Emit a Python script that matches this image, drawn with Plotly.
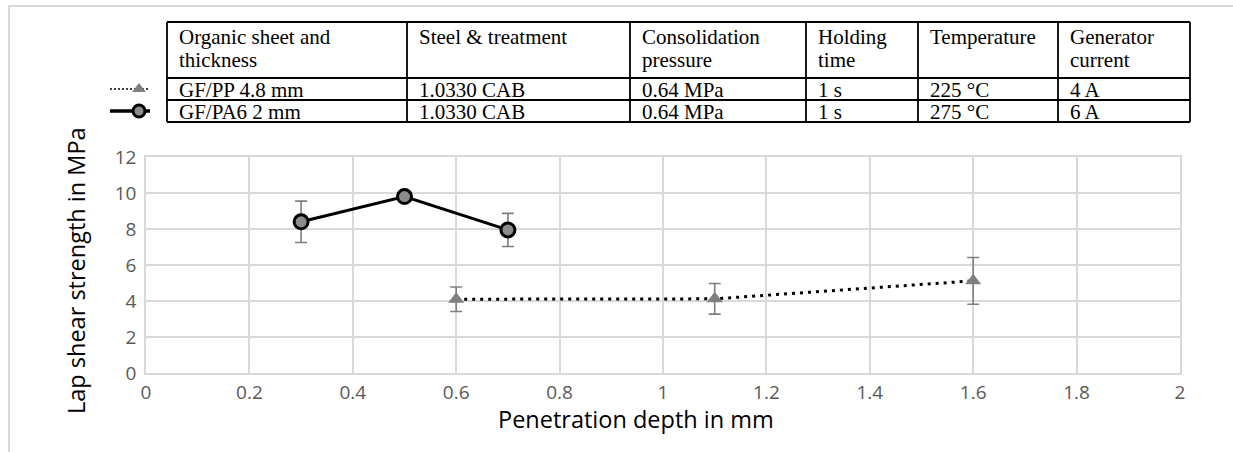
import plotly.graph_objects as go

# ---------------- data ----------------
pp_x = [0.6, 1.1, 1.6]
pp_y = [4.1, 4.12, 5.12]
pp_err = [0.68, 0.85, 1.3]

pa6_x = [0.3, 0.5, 0.7]
pa6_y = [8.4, 9.8, 7.95]
pa6_err = [1.15, 0.1, 0.92]

x_ticks = [0, 0.2, 0.4, 0.6, 0.8, 1, 1.2, 1.4, 1.6, 1.8, 2]
y_ticks = [0, 2, 4, 6, 8, 10, 12]

table_header = [
    ["Organic sheet and", "thickness"],
    ["Steel & treatment"],
    ["Consolidation", "pressure"],
    ["Holding", "time"],
    ["Temperature"],
    ["Generator", "current"],
]
table_rows = [
    ["GF/PP 4.8 mm", "1.0330 CAB", "0.64 MPa", "1 s", "225 °C", "4 A"],
    ["GF/PA6 2 mm", "1.0330 CAB", "0.64 MPa", "1 s", "275 °C", "6 A"],
]

x_title = "Penetration depth in mm"
y_title = "Lap shear strength in MPa"

# ---------------- layout geometry (pixels) ----------------
W, H = 1233, 452
L, R, T, B = 146, 53, 157, 79           # plot-area edges (px)

col_edges = [167, 407, 630, 806, 918, 1058, 1190]
row_edges = [22, 78, 100, 122]

PP_STYLE = dict(line=dict(color="black", width=3, dash="3px,5px"),
                marker=dict(symbol="triangle-up", size=14, color="#7f7f7f", line=dict(width=0)))
PA6_STYLE = dict(line=dict(color="black", width=3),
                 marker=dict(symbol="circle", size=14, color="#8c8c8c",
                             line=dict(width=3, color="black")))
ERR = dict(type="data", visible=True, color="#7f7f7f", thickness=1.6, width=6)

fig = go.Figure()

fig.add_trace(go.Scatter(x=pp_x, y=pp_y, mode="lines+markers", showlegend=False,
                         error_y=dict(array=pp_err, **ERR), **PP_STYLE))
fig.add_trace(go.Scatter(x=pa6_x, y=pa6_y, mode="lines+markers", showlegend=False,
                         error_y=dict(array=pa6_err, **ERR), **PA6_STYLE))

# legend keys drawn on a pixel-overlay axis next to the table rows
for ri, style in enumerate([PP_STYLE, PA6_STYLE]):
    yc = (row_edges[ri + 1] + row_edges[ri + 2]) / 2
    ln = dict(style["line"])
    if ri == 0:
        ln.update(width=2, dash="2px,2px", color="#404040")
    else:
        ln.update(width=3.5)
    fig.add_trace(go.Scatter(x=[110, 150], y=[yc, yc], mode="lines", line=ln,
                             xaxis="x2", yaxis="y2", showlegend=False, hoverinfo="skip"))
    mk = dict(style["marker"])
    mk["size"] = 12
    fig.add_trace(go.Scatter(x=[139], y=[yc], mode="markers", marker=mk,
                             xaxis="x2", yaxis="y2", showlegend=False, hoverinfo="skip"))

shapes = []
shapes.append(dict(type="rect", xref="x2", yref="y2", x0=9, x1=1300, y0=6, y1=500,
                   line=dict(color="#d9d9d9", width=2), layer="below"))
for xe in col_edges:
    shapes.append(dict(type="line", xref="x2", yref="y2", x0=xe, x1=xe,
                       y0=row_edges[0], y1=row_edges[-1], line=dict(color="black", width=1.8)))
for ye in row_edges:
    shapes.append(dict(type="line", xref="x2", yref="y2", x0=col_edges[0], x1=col_edges[-1],
                       y0=ye, y1=ye, line=dict(color="black", width=1.8)))

annotations = []
tfont = dict(family="Liberation Serif", size=21, color="black")
for ci, lines in enumerate(table_header):
    for li, txt in enumerate(lines):
        annotations.append(dict(xref="x2", yref="y2", x=col_edges[ci] + 10, y=37 + 23 * li,
                                xanchor="left", yanchor="middle", text=txt,
                                showarrow=False, font=tfont))
for ri, row in enumerate(table_rows):
    for ci, txt in enumerate(row):
        annotations.append(dict(xref="x2", yref="y2", x=col_edges[ci] + 10,
                                y=(row_edges[ri + 1] + row_edges[ri + 2]) / 2 + 0.5,
                                xanchor="left", yanchor="middle", text=txt,
                                showarrow=False, font=tfont))

titlefont = dict(family="Open Sans", size=23.5, color="black")
annotations.append(dict(xref="x2", yref="y2", x=(L + W - R) / 2 - 27, y=419,
                        xanchor="center", yanchor="middle", text=x_title,
                        showarrow=False, font=titlefont))
annotations.append(dict(xref="x2", yref="y2", x=76, y=(T + H - B) / 2 + 6,
                        xanchor="center", yanchor="middle", text=y_title, textangle=-90,
                        showarrow=False, font=titlefont))

axfont = dict(family="Open Sans", size=19, color="#595959")
grid = dict(showgrid=True, gridcolor="#d9d9d9", gridwidth=1.5,
            showline=True, linecolor="#d9d9d9", linewidth=1.5, mirror=True,
            zeroline=False, ticks="", tickfont=axfont, automargin=False)
fig.update_layout(
    width=W, height=H,
    margin=dict(l=0, r=0, t=0, b=0, autoexpand=False),
    paper_bgcolor="white", plot_bgcolor="rgba(0,0,0,0)",
    showlegend=False,
    shapes=shapes, annotations=annotations,
    xaxis=dict(domain=[L / W, (W - R) / W], range=[0, 2], tickvals=x_ticks,
               ticktext=[str(v) for v in x_ticks], ticklabelstandoff=1, **grid),
    yaxis=dict(domain=[B / H, (H - T) / H], range=[0, 12], tickvals=y_ticks,
               ticklabelstandoff=4, **grid),
    xaxis2=dict(domain=[0, 1], range=[0, W], visible=False, fixedrange=True, anchor="y2"),
    yaxis2=dict(domain=[0, 1], range=[H, 0], visible=False, fixedrange=True, anchor="x2"),
)

# remove the browser's default 8px body margin so the figure fills the window exactly
fig.write_html("out.html", config={"displayModeBar": False},
               post_script="document.body.style.margin='0';")
